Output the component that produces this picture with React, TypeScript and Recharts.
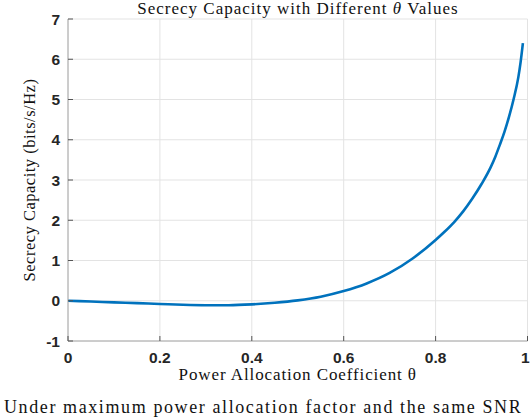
import React from 'react';
import { LineChart, Line, XAxis, YAxis, CartesianGrid } from 'recharts';

const theta = [0, 0.05, 0.1, 0.15, 0.2, 0.25, 0.3, 0.35, 0.4, 0.45, 0.5, 0.55, 0.6, 0.65, 0.7, 0.75, 0.8, 0.82, 0.84, 0.86, 0.88, 0.9, 0.92, 0.93, 0.94, 0.95, 0.96, 0.97, 0.98, 0.985, 0.99];
const capacity = [0, -0.02, -0.04, -0.06, -0.08, -0.1, -0.11, -0.11, -0.09, -0.05, 0.01, 0.1, 0.24, 0.43, 0.69, 1.05, 1.51, 1.72, 1.95, 2.22, 2.54, 2.9, 3.32, 3.58, 3.88, 4.2, 4.58, 5.02, 5.55, 5.93, 6.4];
const xTicks = [0, 0.2, 0.4, 0.6, 0.8, 1];
const yTicks = [-1, 0, 1, 2, 3, 4, 5, 6, 7];

const data = theta.map((t, i) => ({ theta: t, capacity: capacity[i] }));

const tickFont = { fontFamily: 'Liberation Sans, Arial, sans-serif', fontWeight: 700, fontSize: 15.5, fill: '#262626' };
const serif = 'Liberation Serif, Times New Roman, serif';

const BottomTick = (props: any) => {
  const { x, y, payload } = props;
  const last = payload.value === 1;
  return (
    <g>
      <line x1={x} x2={x} y1={y} y2={y - 5} stroke="#555" />
      <text x={last ? x + 2 : x} y={y + 22} textAnchor={last ? 'end' : 'middle'} {...tickFont}>{payload.value}</text>
    </g>
  );
};

const LeftTick = (props: any) => {
  const { x, y, payload } = props;
  return (
    <g>
      <line x1={x} x2={x + 5} y1={y} y2={y} stroke="#555" />
      <text x={x - 8} y={y + 5.5} textAnchor="end" {...tickFont}>{payload.value}</text>
    </g>
  );
};

const TopTick = (props: any) => {
  const { x, y } = props;
  return <line x1={x} x2={x} y1={y} y2={y + 5} stroke="#333" />;
};

const RightTick = (props: any) => {
  const { x, y } = props;
  return <line x1={x} x2={x - 5} y1={y} y2={y} stroke="#333" />;
};

export default function App() {
  return (
    <div style={{ position: 'absolute', left: 0, top: 0, width: 530, height: 418, overflow: 'hidden', background: '#fff' }}>
      <LineChart width={530} height={418} data={data} margin={{ top: 19, right: 2.5, left: 0, bottom: 0 }}>
        <CartesianGrid stroke="#e3e3e3" strokeWidth={1} />
        <XAxis
          dataKey="theta"
          type="number"
          domain={[0, 1]}
          ticks={xTicks}
          height={77}
          tickSize={0}
          tickMargin={0}
          axisLine={{ stroke: '#a8a8a8' }}
          tickLine={false}
          tick={<BottomTick />}
          interval={0}
          label={{ value: 'Power Allocation Coefficient θ', position: 'insideTop', offset: 27, style: { fontFamily: serif, fontSize: 17, letterSpacing: 0.9, fill: '#111' } }}
        />
        <XAxis
          xAxisId="top"
          orientation="top"
          type="number"
          domain={[0, 1]}
          ticks={xTicks}
          height={0}
          tickSize={0}
          tickMargin={0}
          axisLine={{ stroke: '#333' }}
          tickLine={false}
          tick={<TopTick />}
          interval={0}
        />
        <YAxis
          type="number"
          domain={[-1, 7]}
          ticks={yTicks}
          width={68}
          tickSize={0}
          tickMargin={0}
          axisLine={{ stroke: '#a8a8a8' }}
          tickLine={false}
          tick={<LeftTick />}
          interval={0}
          label={{ value: 'Secrecy Capacity (bits/s/Hz)', angle: -90, position: 'insideLeft', offset: 29, style: { textAnchor: 'middle', fontFamily: serif, fontSize: 16.5, letterSpacing: 0.5, fill: '#111' } }}
        />
        <YAxis
          yAxisId="right"
          orientation="right"
          type="number"
          domain={[-1, 7]}
          ticks={yTicks}
          width={0}
          tickSize={0}
          tickMargin={0}
          axisLine={{ stroke: '#333' }}
          tickLine={false}
          tick={<RightTick />}
          interval={0}
        />
        <Line
          type="monotone"
          dataKey="capacity"
          stroke="#0072BD"
          strokeWidth={2.6}
          dot={false}
          isAnimationActive={false}
        />
      </LineChart>
      <div
        style={{
          position: 'absolute', left: 68, width: 460, top: 0, textAlign: 'center',
          fontFamily: serif, fontSize: 17, letterSpacing: 1, color: '#111', lineHeight: '18px',
        }}
      >
        Secrecy Capacity with Different <i>θ</i> Values
      </div>
      <div
        style={{
          position: 'absolute', left: 4, top: 398, whiteSpace: 'nowrap',
          fontFamily: serif, fontSize: 18, letterSpacing: 1.6, color: '#111', lineHeight: '19px',
        }}
      >
        Under maximum power allocation factor and the same SNR
      </div>
    </div>
  );
}
